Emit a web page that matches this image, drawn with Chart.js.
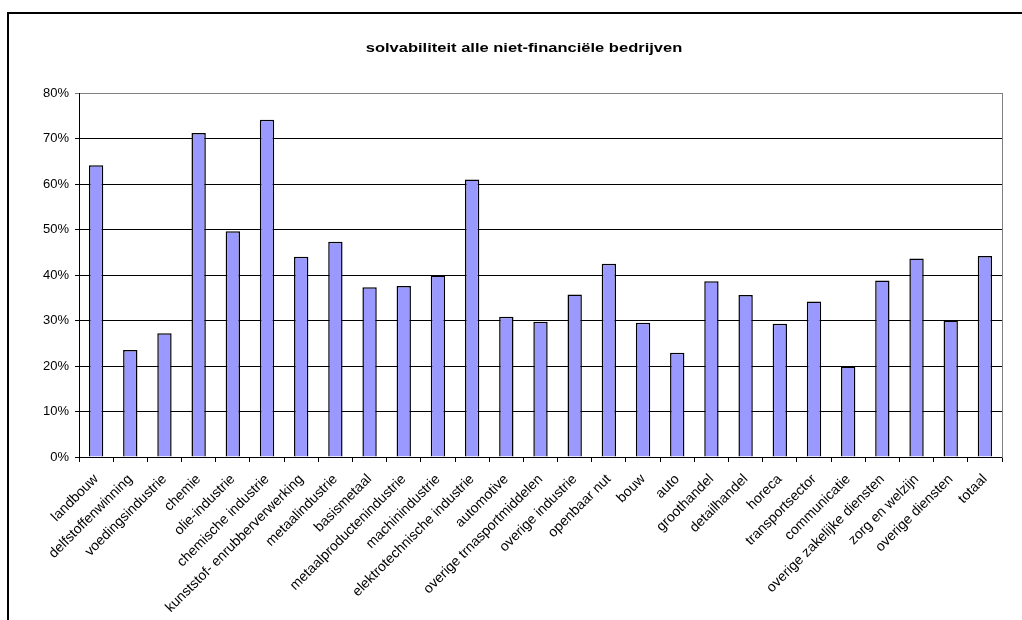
<!DOCTYPE html>
<html>
<head>
<meta charset="utf-8">
<title>solvabiliteit</title>
<script src="https://cdn.jsdelivr.net/npm/chart.js@4/dist/chart.umd.min.js"></script>
<style>
    html, body { margin: 0; padding: 0; background: #fff; overflow: hidden; }
    #frame {
        position: absolute; left: 7px; top: 12px;
        width: 1100px; height: 700px;
        border: 2px solid #000;
    }
    #chart { position: absolute; left: 0; top: 0; }
    #title {
        position: absolute; left: 0; top: 40px; width: 1048px;
        text-align: center;
        font: bold 13px/15px 'Liberation Sans', Arial, sans-serif;
        color: #000;
        transform: scaleX(1.27);
        z-index: 2;
    }
</style>
</head>
<body>
<div id="frame"></div>
<div id="title">solvabiliteit alle niet-financiële bedrijven</div>
<canvas id="chart" width="1022" height="620"></canvas>
<script>
// sectoren
const categories = [
    'landbouw', 'delfstoffenwinning', 'voedingsindustrie', 'chemie', 'olie-industrie',
    'chemische industrie', 'kunststof- enrubberverwerking', 'metaalindustrie', 'basismetaal',
    'metaalproductenindustrie', 'machinindustrie', 'elektrotechnische industrie', 'automotive',
    'overige trnasportmiddelen', 'overige industrie', 'openbaar nut', 'bouw', 'auto',
    'groothandel', 'detailhandel', 'horeca', 'transportsector', 'communicatie',
    'overige zakelijke diensten', 'zorg en welzijn', 'overige diensten', 'totaal'
];

// solvabiliteit in procenten
const solvabiliteit = [
    64.1, 23.5, 27.2, 71.2, 49.6,
    74.1, 44.0, 47.3, 37.3,
    37.6, 39.9, 61.0, 30.8,
    29.7, 35.7, 42.5, 29.5, 22.9,
    38.6, 35.6, 29.3, 34.2, 19.9,
    38.8, 43.6, 30.0, 44.2
];

// y-as
const yMin = 0;
const yMax = 80;
const yStep = 10;

Chart.defaults.font.family = "'Liberation Sans', Arial, sans-serif";
Chart.defaults.font.size = 13;
Chart.defaults.color = '#000';

new Chart(document.getElementById('chart'), {
    type: 'bar',
    data: {
        labels: categories,
        datasets: [{
            data: solvabiliteit,
            backgroundColor: '#9999ff',
            borderColor: '#000',
            borderWidth: 1.5,
            barPercentage: 0.42,
            categoryPercentage: 1
        }]
    },
    options: {
        responsive: false,
        animation: false,
        layout: { padding: { left: 10, right: 0, top: 93, bottom: 0 } },
        plugins: {
            legend: { display: false },
            tooltip: { enabled: false },
            title: { display: false }
        },
        scales: {
            x: {
                offset: true,
                grid: {
                    offset: true,
                    drawOnChartArea: false,
                    tickLength: 5,
                    color: '#000'
                },
                border: { color: '#000', width: 1 },
                ticks: {
                    autoSkip: false,
                    maxRotation: 45,
                    minRotation: 45,
                    padding: 9,
                    font: { size: 14 }
                },
                afterFit: scale => { scale.height = 163; }
            },
            y: {
                min: yMin,
                max: yMax,
                grid: {
                    tickLength: 4,
                    color: ctx => (ctx.tick && ctx.tick.value === yMax) ? '#808080' : '#000'
                },
                border: { color: '#000', width: 1 },
                ticks: {
                    stepSize: yStep,
                    padding: 6,
                    callback: v => v + '%'
                },
                afterFit: scale => { scale.width = 69; }
            },
            // rechterrand van het plotgebied
            y2: {
                position: 'right',
                min: yMin,
                max: yMax,
                grid: { drawOnChartArea: false, drawTicks: false },
                border: { color: '#808080', width: 1 },
                ticks: { display: false },
                afterFit: scale => { scale.width = 20; }
            }
        }
    }
});
</script>
</body>
</html>
